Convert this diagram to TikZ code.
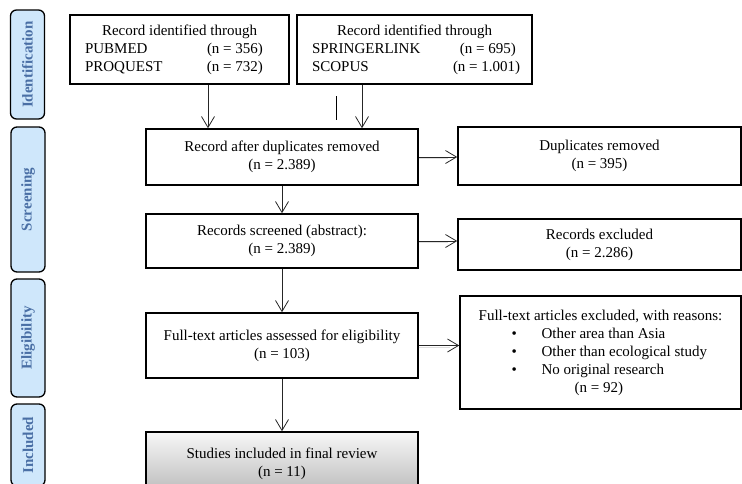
\documentclass[tikz,border=0pt]{standalone}
\usepackage{fontspec}
\setmainfont{Liberation Serif}
\usetikzlibrary{arrows.meta}
\definecolor{sidefill}{HTML}{CFE7FB}
\definecolor{sidetext}{HTML}{4A6FA5}
\tikzset{
  box/.style={draw, line width=1.5pt, inner sep=0pt, align=center, font=\fontsize{15}{18}\selectfont},
  side/.style={draw, line width=1.3pt, rounded corners=6pt, fill=sidefill, minimum height=34pt, inner sep=0pt, rotate=90, text=sidetext, font=\fontsize{15}{18}\selectfont\bfseries},
  arr/.style={-{Straight Barb[length=11pt,width=13pt]}, line width=0.8pt, draw=black!85},
  shadow/.style={line width=1.3pt, draw=black!13},
}
\begin{document}
\begin{tikzpicture}[x=1pt, y=-1pt]
\useasboundingbox (0,0) rectangle (742,483);
\clip (0,0) rectangle (742,483);

% phase labels
\node[side, minimum width=109pt] (ident) at (27.5,64.5) {Identification};
\node[side, minimum width=145pt] (screen) at (28,199.5) {Screening};
\node[side, minimum width=118pt] (elig) at (28,338) {Eligibility};
\node[side, minimum width=82pt] (inclab) at (28,445) {Included};

% sources
\node[box, minimum width=219pt, minimum height=69pt] (srcA) at (179.5,49.5)
  {Record identified through\\
   \makebox[189pt][l]{\makebox[122pt][l]{PUBMED}(n = 356)}\\
   \makebox[189pt][l]{\makebox[122pt][l]{PROQUEST}(n = 732)}};
\node[box, minimum width=235pt, minimum height=69pt] (srcB) at (414.5,49.5)
  {Record identified through\\
   \makebox[205pt][l]{\makebox[148pt][l]{SPRINGERLINK}(n = 695)}\\
   \makebox[205pt][l]{\makebox[141pt][l]{SCOPUS}(n = 1.001)}};

% main column
\node[box, minimum width=272pt, minimum height=56pt] (dedup) at (282,157) {Record after duplicates removed\\(n = 2.389)};
\node[box, minimum width=272pt, minimum height=54pt] (screened) at (282,241) {Records screened (abstract):\\(n = 2.389)};
\node[box, minimum width=272pt, minimum height=65pt] (fulltext) at (282,345.5) {Full-text articles assessed for eligibility\\(n = 103)};
\node[box, minimum width=272pt, minimum height=63pt, top color=gray!6, bottom color=gray!55] (incl) at (282,463.5) {Studies included in final review\\(n = 11)};

% right column
\node[box, minimum width=283pt, minimum height=58pt] (dupl) at (599.5,156) {Duplicates removed\\(n = 395)};
\node[box, minimum width=283pt, minimum height=51pt] (excluded) at (599.5,244.5) {Records excluded\\(n = 2.286)};
\node[box, minimum width=281pt, minimum height=113pt, align=left] (ftexcl) at (600.5,352.5)
  {Full-text articles excluded, with reasons:\\
   \hspace*{33pt}\makebox[30pt][l]{\textbullet}Other area than Asia\\
   \hspace*{33pt}\makebox[30pt][l]{\textbullet}Other than ecological study\\
   \hspace*{33pt}\makebox[30pt][l]{\textbullet}No original research\\
   \hspace*{96pt}(n = 92)};

% down arrows
\coordinate (a1) at ([xshift=28.5pt]srcA.south);
\coordinate (b1) at ([xshift=-52.5pt]srcB.south);
\draw[arr] (a1) -- (a1 |- dedup.north);
\draw[arr] (b1) -- (b1 |- dedup.north);
\draw[line width=0.8pt] (336,96) -- (336,120); % stray mark
\draw[arr] (dedup.south) -- (screened.north);
\draw[arr] (screened.south) -- (fulltext.north);
\draw[arr] (fulltext.south) -- (incl.north);

% side arrows
\draw[shadow] ([yshift=-1.8pt]dedup.east) -- ([yshift=-1.8pt,xshift=-9pt]dedup.east -| dupl.west);
\draw[arr] (dedup.east) -- (dedup.east -| dupl.west);
\draw[shadow] ([yshift=-1.8pt]screened.east) -- ([yshift=-1.8pt,xshift=-9pt]screened.east -| excluded.west);
\draw[arr] (screened.east) -- (screened.east -| excluded.west);
\draw[shadow] ([yshift=-1.8pt]fulltext.east) -- ([yshift=-1.8pt,xshift=-9pt]fulltext.east -| ftexcl.west);
\draw[arr] (fulltext.east) -- (fulltext.east -| ftexcl.west);

\end{tikzpicture}
\end{document}
